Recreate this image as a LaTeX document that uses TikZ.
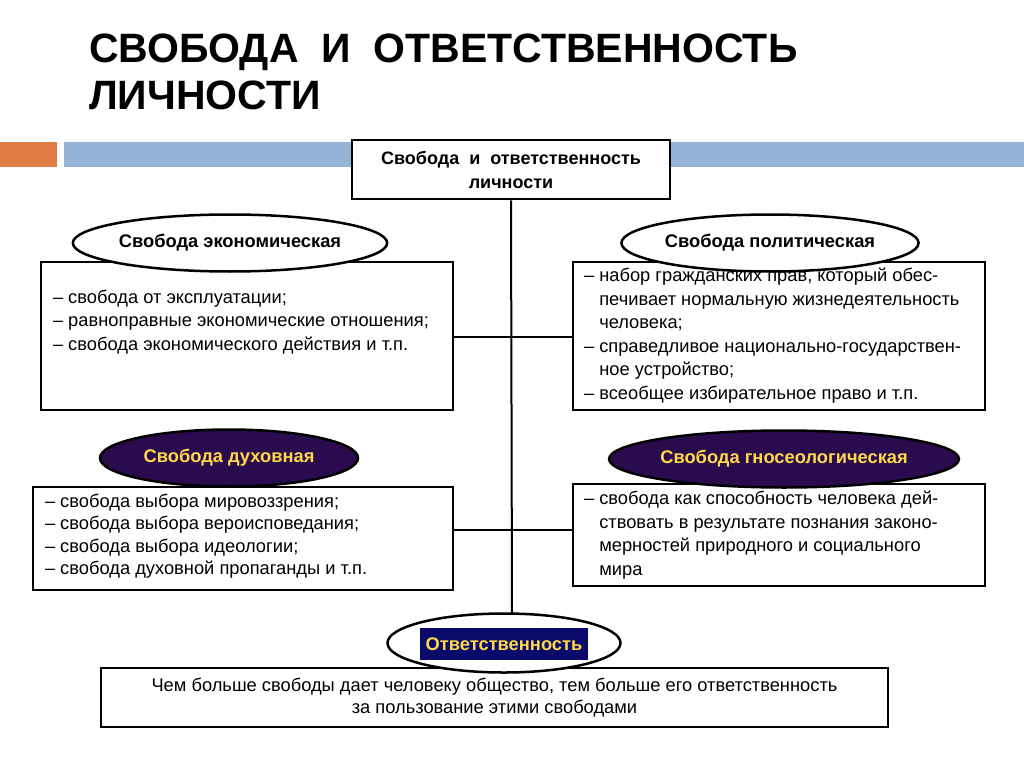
\documentclass[tikz,border=0pt]{standalone}
\usepackage{fontspec}
\setmainfont{Liberation Sans}
\usetikzlibrary{shapes.geometric}
\definecolor{barorange}{HTML}{E07B45}
\definecolor{barblue}{HTML}{95B3D7}
\definecolor{darkviolet}{HTML}{2A0B4E}
\definecolor{navybox}{HTML}{0A0A6A}
\definecolor{goldtext}{HTML}{FFD84A}

\begin{document}
\begin{tikzpicture}[x=1pt,y=-1pt,line width=2pt]
    \tikzstyle{textbox}=[draw=black,fill=white,rectangle,inner sep=0pt,anchor=north west]
    \tikzstyle{oval}=[draw=black,ellipse,fill=white,line width=2.5pt,inner sep=0pt,font=\bfseries\fontsize{18.3}{21}\selectfont]
    \tikzstyle{dark oval}=[oval, fill=darkviolet, text=goldtext]
    \tikzstyle{item}=[align=left,anchor=north west,inner sep=0pt,font=\fontsize{18.3}{23.5}\selectfont]

    \useasboundingbox (0,0) rectangle (1024,767);

    % Title and header bars
    \node[anchor=west,inner sep=0pt,align=left,font=\bfseries\fontsize{41}{47}\selectfont] (title) at (88,72)
        {СВОБОДА\ \ И\ \ ОТВЕТСТВЕННОСТЬ\\ЛИЧНОСТИ};
    \fill[barorange] (0,142) rectangle (57,167);
    \fill[barblue] (64,142) rectangle (1024,167);

    % Root box
    \node[draw,fill=white,minimum width=318pt,minimum height=59pt,align=center,
          font=\bfseries\fontsize{18}{24}\selectfont] (root) at (511,170)
        {Свобода\ \ и\ \ ответственность\\личности};

    % Boxes
    \node[textbox,minimum width=412pt,minimum height=148pt] (B-1) at (40,261) {};
    \node[textbox,minimum width=412pt,minimum height=148pt] (B-2) at (572,261) {};
    \node[textbox,minimum width=420pt,minimum height=103pt] (B-3) at (32,486) {};
    \node[textbox,minimum width=412pt,minimum height=102pt] (B-4) at (572,483) {};
    \node[textbox,minimum width=787pt,minimum height=59pt] (B-5) at (100,667) {};

    % Connectors
    \coordinate (down) at (512,615);
    \draw (root.south) -- (down);
    \draw (B-1.east |- 0,337) -- (B-2.west |- 0,337);
    \draw (B-3.east |- 0,530) -- (B-4.west |- 0,530);

    % Texts
    \node[item] (t1) at (52,289) {– свобода от эксплуатации;\\– равноправные экономические отношения;\\– свобода экономического действия и т.п.};
    \node[item] (t2) at (583,267) {– набор гражданских прав, который обес-\\\phantom{– }печивает нормальную жизнедеятельность\\\phantom{– }человека;\\– справедливое национально-государствен-\\\phantom{– }ное устройство;\\– всеобщее избирательное право и т.п.};
    \node[item,font=\fontsize{18.3}{22.5}\selectfont] (t3) at (44,493) {– свобода выбора мировоззрения;\\– свобода выбора вероисповедания;\\– свобода выбора идеологии;\\– свобода духовной пропаганды и т.п.};
    \node[item] (t4) at (583,490) {– свобода как способность человека дей-\\\phantom{– }ствовать в результате познания законо-\\\phantom{– }мерностей природного и социального\\\phantom{– }мира};
    \node[align=center,inner sep=0pt,font=\fontsize{18.3}{22}\selectfont] (t5) at (B-5.center)
        {Чем больше свободы дает человеку общество, тем больше его ответственность\\за пользование этими свободами};

    % Ovals
    \node[oval,minimum width=258pt,minimum height=57pt] (E-1) at (230,243) {Свобода экономическая};
    \node[oval,minimum width=258pt,minimum height=57pt] (E-2) at (770,243) {Свобода политическая};
    \node[dark oval,minimum width=258pt,minimum height=57pt] (E-3) at (229,458) {Свобода духовная};
    \node[dark oval,minimum width=268pt,minimum height=57pt] (E-4) at (784,459) {Свобода гносеологическая};
    \node[oval,minimum width=233pt,minimum height=59pt] (E-5) at (504,643) {};
    \node[fill=navybox,text=goldtext,minimum width=168pt,minimum height=32pt,inner sep=0pt,
          font=\bfseries\fontsize{18.3}{21}\selectfont] (resp) at (504,644) {Ответственность};
\end{tikzpicture}
\end{document}
